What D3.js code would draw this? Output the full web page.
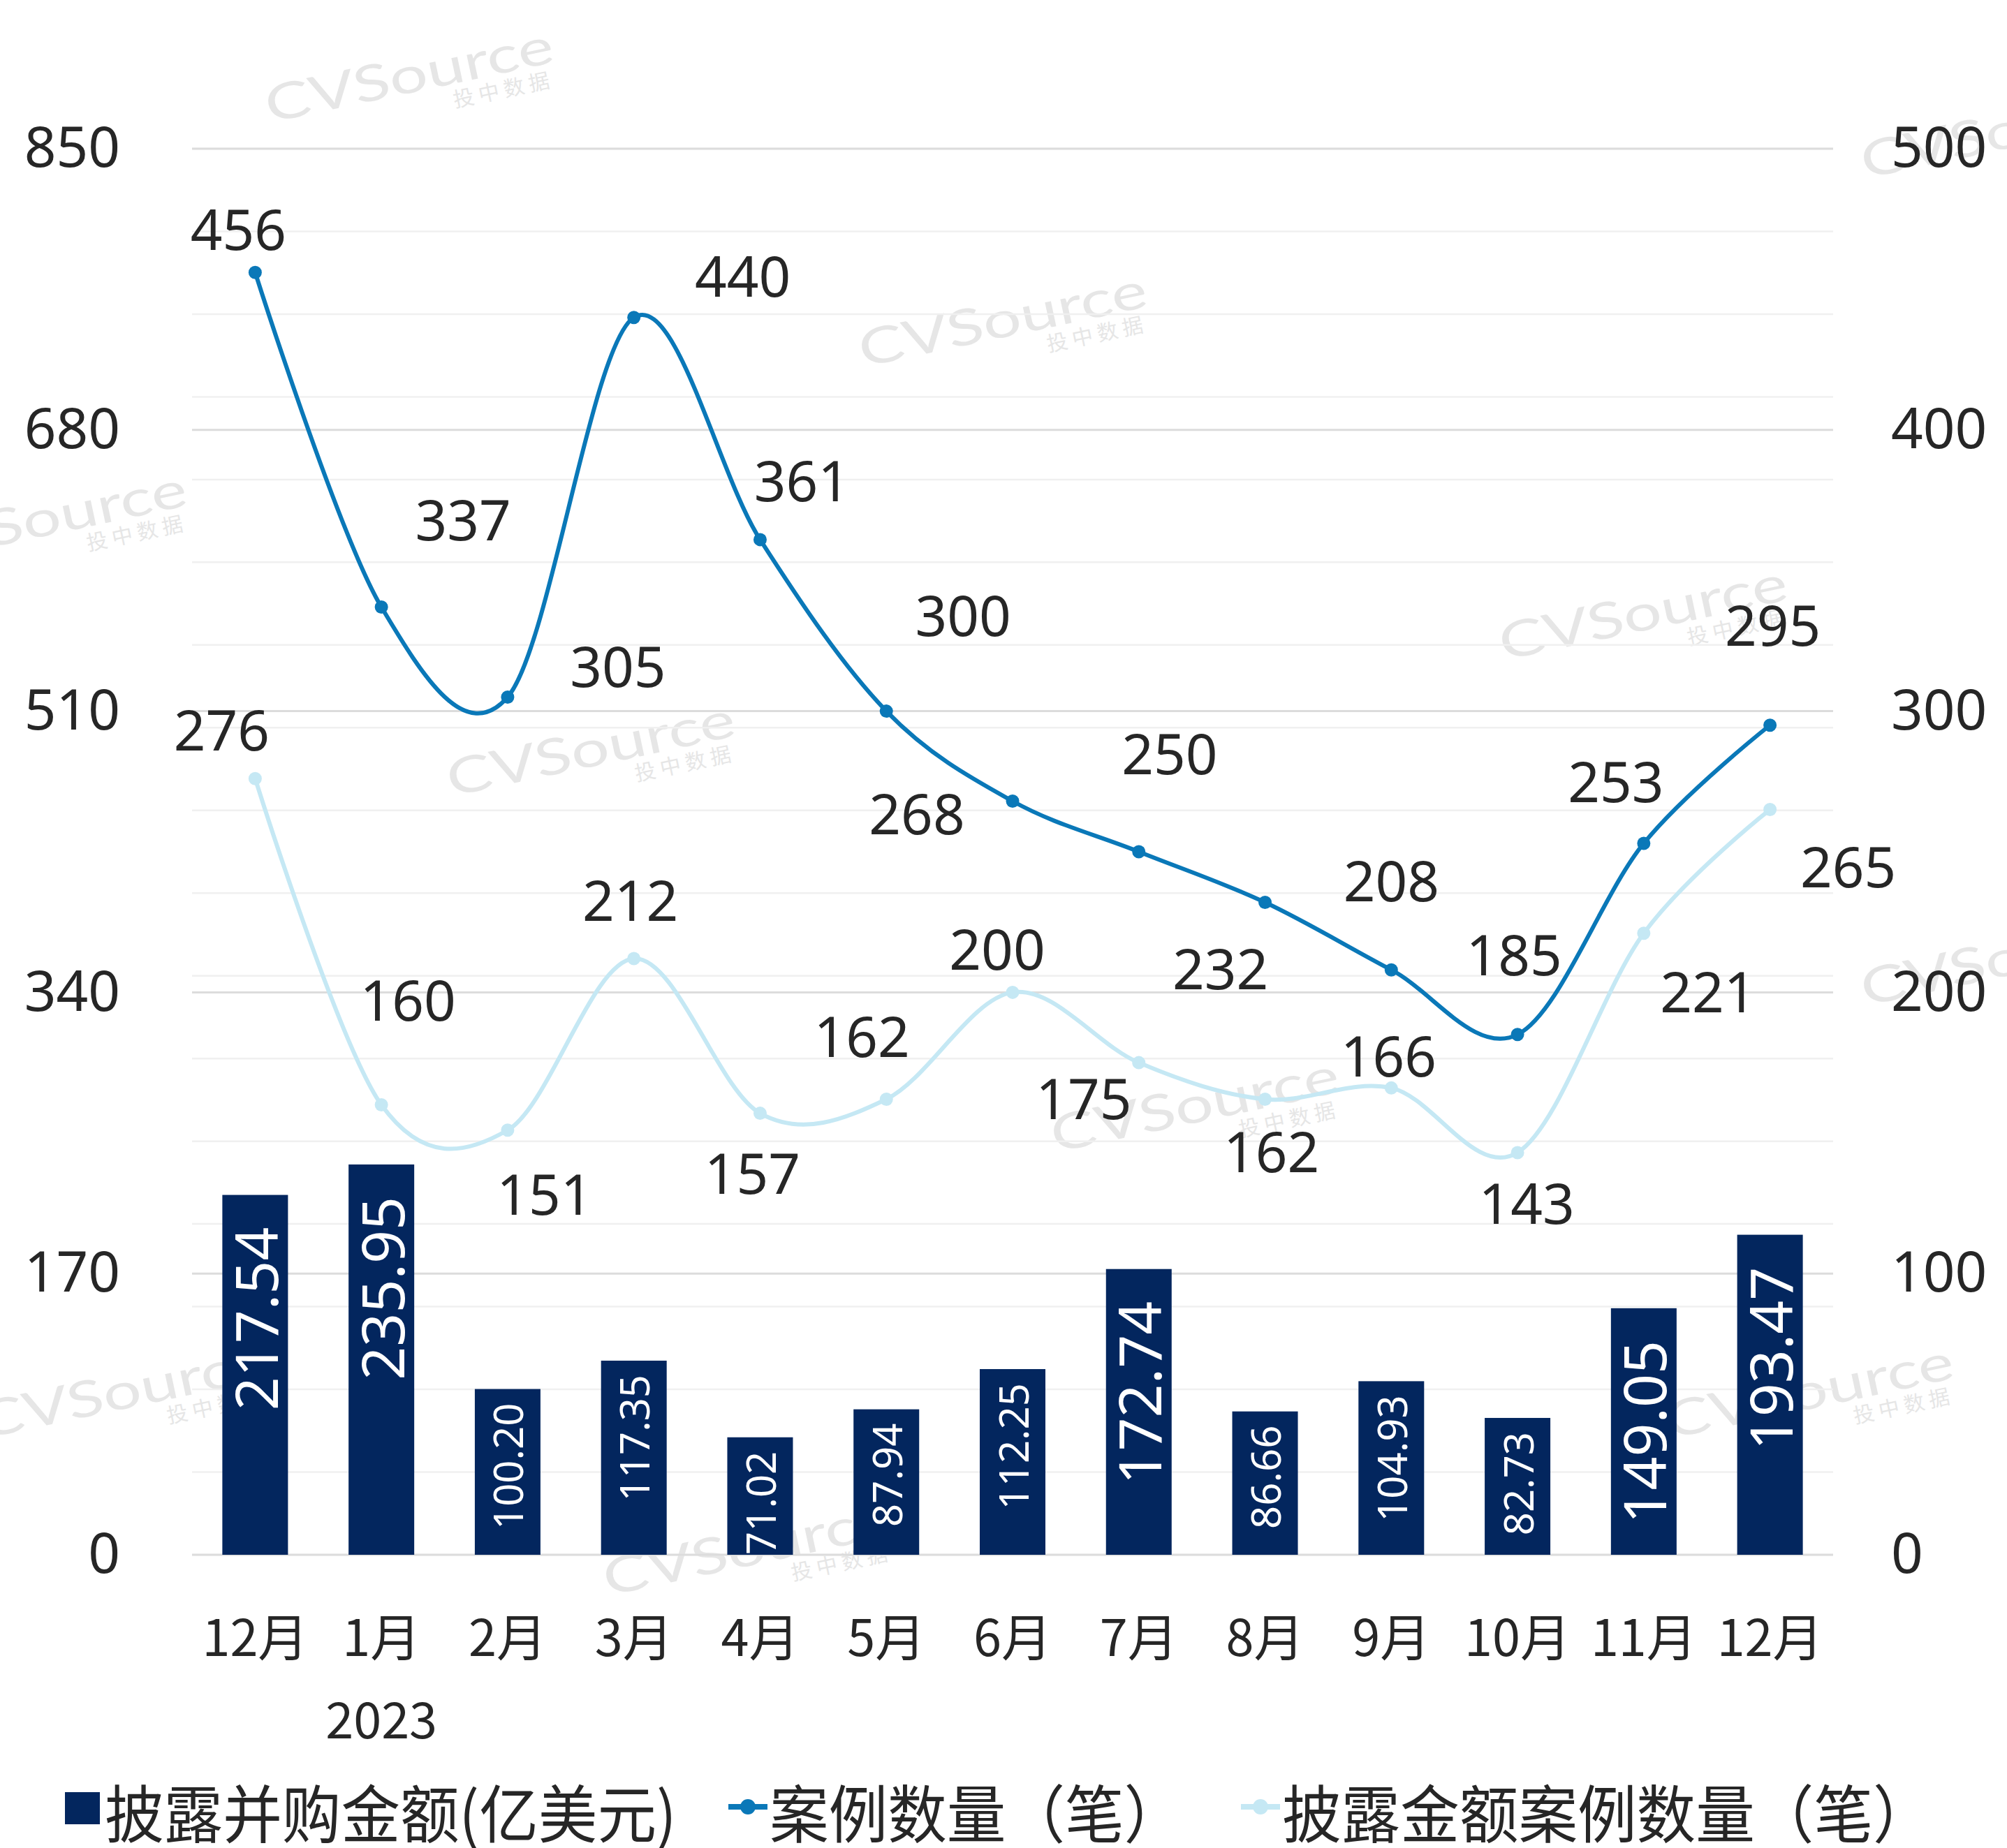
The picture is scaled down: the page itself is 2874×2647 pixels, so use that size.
<!DOCTYPE html>
<html>
<head>
<meta charset="utf-8">
<script src="https://cdnjs.cloudflare.com/ajax/libs/d3/7.8.5/d3.min.js"></script>
<style>
  html, body { margin: 0; padding: 0; background: #fff; }
  svg { display: block; }
</style>
</head>
<body>
<svg id="chart" width="2874" height="2647"></svg>
<script>
// chart values
var months = ["12月", "1月", "2月", "3月", "4月", "5月", "6月", "7月", "8月", "9月", "10月", "11月", "12月"]
var yearLabel = {index: 1, text: "2023"}
var dealAmount = [217.54, 235.95, 100.20, 117.35, 71.02, 87.94, 112.25, 172.74, 86.66, 104.93, 82.73, 149.05, 193.47]
var dealCount = [456, 337, 305, 440, 361, 300, 268, 250, 232, 208, 185, 253, 295]
var disclosedCount = [276, 160, 151, 212, 157, 162, 200, 175, 162, 166, 143, 221, 265]
var leftTicks = [0, 170, 340, 510, 680, 850]
var rightTicks = [0, 100, 200, 300, 400, 500]
var legendNames = ["披露并购金额(亿美元)", "案例数量（笔）", "披露金额案例数量（笔）"]

var width = 2874
var height = 2647
var plotLeft = 275, plotRight = 2625, plotTop = 213, plotBottom = 2227

var navy = "#03265e"
var blue = "#0a78b8"
var lightBlue = "#c5e8f4"
var textColor = "#262626"
var numFont = "'Noto Sans', 'Open Sans', sans-serif"
var cjkFont = "'Noto Sans CJK SC', 'Noto Sans', sans-serif"

// label nudges (px from the point), as placed in the original chart
var dealCountNudge = [[-24, -64], [117, -127], [158, -46], [156, -61], [60, -86], [110, -139], [-137, 16],
    [44, -143], [-64, 93], [0, -130], [-5, -116], [-40, -90], [4, -145]]
var disclosedNudge = [[-48, -72], [38, -152], [53, 90], [-5, -86], [-11, 84], [-35, -92], [-22, -64],
    [-79, 49], [9, 73], [-4, -48], [13, 71], [92, 82], [112, 80]]

var svg = d3.select("#chart")

var x = d3.scaleBand().domain(d3.range(months.length)).range([plotLeft, plotRight])
    .paddingInner(0.48).paddingOuter(0.24)
var yLeft = d3.scaleLinear().domain([0, 850]).range([plotBottom, plotTop])
var yRight = d3.scaleLinear().domain([0, 500]).range([plotBottom, plotTop])

function cx(i) {
    return x(i) + x.bandwidth() / 2
}

function drawWatermarks(container) {
    var spots = [[585, 105], [1435, 455], [845, 1070], [60, 740], [2352, 875], [1710, 1580],
        [175, 1990], [2590, 1990], [1069, 2215], [2870, 185], [2870, 1370]]
    spots.forEach(function (s) {
        var g = container.append("g").attr("transform", "translate(" + s[0] + "," + s[1] + ") rotate(-12)")
        g.append("text")
            .attr("text-anchor", "middle")
            .attr("dominant-baseline", "central")
            .attr("textLength", 420)
            .attr("lengthAdjust", "spacingAndGlyphs")
            .attr("font-family", "Lato, 'Noto Sans', sans-serif")
            .attr("font-size", 72)
            .attr("fill", "#e6e6e6")
            .text("CVSource")
        g.append("text")
            .attr("x", 125)
            .attr("y", 49)
            .attr("text-anchor", "middle")
            .attr("dominant-baseline", "central")
            .attr("font-family", cjkFont)
            .attr("font-size", 30)
            .attr("fill", "#e6e6e6")
            .text("投 中 数 据")
    })
}

function drawGrid(container) {
    container.selectAll("line.minor")
        .data(d3.range(0, 851, 50))
        .enter().append("line")
        .attr("x1", plotLeft).attr("x2", plotRight)
        .attr("y1", function (d) { return yLeft(d) })
        .attr("y2", function (d) { return yLeft(d) })
        .attr("stroke", "#f0f0f0")
        .attr("stroke-width", 2.5)
    container.selectAll("line.major")
        .data(rightTicks)
        .enter().append("line")
        .attr("x1", plotLeft).attr("x2", plotRight)
        .attr("y1", function (d) { return yRight(d) })
        .attr("y2", function (d) { return yRight(d) })
        .attr("stroke", "#dcdcdc")
        .attr("stroke-width", 3)
}

function styleAxis(g, font, size) {
    g.select(".domain").remove()
    g.selectAll("text")
        .attr("font-family", font)
        .attr("font-size", size)
        .attr("fill", textColor)
}

function drawAxes(container) {
    container.append("g")
        .attr("transform", "translate(" + plotLeft + ",0)")
        .call(d3.axisLeft(yLeft).tickValues(leftTicks).tickSize(0).tickPadding(plotLeft - 172))
        .call(styleAxis, numFont, 80)
    container.append("g")
        .attr("transform", "translate(" + plotRight + ",0)")
        .call(d3.axisRight(yRight).tickValues(rightTicks).tickSize(0).tickPadding(2708 - plotRight))
        .call(styleAxis, numFont, 80)
    container.append("g")
        .attr("transform", "translate(0," + plotBottom + ")")
        .call(d3.axisBottom(x).tickFormat(function (i) { return months[i] }).tickSize(0).tickPadding(94))
        .call(styleAxis, cjkFont, 72)
    container.append("text")
        .attr("x", cx(yearLabel.index))
        .attr("y", 2490)
        .attr("text-anchor", "middle")
        .attr("font-family", cjkFont)
        .attr("font-size", 72)
        .attr("fill", textColor)
        .text(yearLabel.text)
}

function drawBars(container) {
    container.selectAll("rect.bar")
        .data(dealAmount)
        .enter().append("rect")
        .attr("x", function (d, i) { return x(i) })
        .attr("y", function (d) { return yLeft(d) })
        .attr("width", x.bandwidth())
        .attr("height", function (d) { return yLeft(0) - yLeft(d) })
        .attr("fill", navy)

    container.selectAll("text.barLabel")
        .data(dealAmount)
        .enter().append("text")
        .attr("transform", function (d, i) {
            var pad = d >= 140 ? 46 : 20
            return "translate(" + cx(i) + "," + (yLeft(d) + pad) + ") rotate(-90)"
        })
        .attr("text-anchor", "end")
        .attr("dominant-baseline", "central")
        .attr("font-family", numFont)
        .attr("font-size", function (d) { return d >= 140 ? 84 : 58 })
        .attr("fill", "#ffffff")
        .text(function (d) { return d.toFixed(2) })
}

function drawLine(container, values, color) {
    var line = d3.line()
        .x(function (d, i) { return cx(i) })
        .y(function (d) { return yRight(d) })
        .curve(d3.curveCardinal.tension(0))

    container.append("path")
        .datum(values)
        .attr("d", line)
        .attr("fill", "none")
        .attr("stroke", color)
        .attr("stroke-width", 6)

    container.selectAll(null)
        .data(values)
        .enter().append("circle")
        .attr("cx", function (d, i) { return cx(i) })
        .attr("cy", function (d) { return yRight(d) })
        .attr("r", 9.5)
        .attr("fill", color)
}

function drawLineLabels(container, values, nudges) {
    container.selectAll(null)
        .data(values)
        .enter().append("text")
        .attr("x", function (d, i) { return cx(i) + nudges[i][0] })
        .attr("y", function (d, i) { return yRight(d) + nudges[i][1] })
        .attr("text-anchor", "middle")
        .attr("dominant-baseline", "central")
        .attr("font-family", numFont)
        .attr("font-size", 80)
        .attr("fill", textColor)
        .text(function (d) { return d })
}

function drawLegend(container) {
    var baseline = 2632
    var markY = 2588
    container.append("rect")
        .attr("x", 93).attr("y", 2567).attr("width", 50).attr("height", 46)
        .attr("fill", navy)
    var items = [
        {x: 150, text: legendNames[0]},
        {x: 1102, text: legendNames[1], color: blue, mx: 1043},
        {x: 1836, text: legendNames[2], color: lightBlue, mx: 1777}
    ]
    items.forEach(function (item) {
        if (item.color) {
            container.append("line")
                .attr("x1", item.mx).attr("x2", item.mx + 56)
                .attr("y1", markY).attr("y2", markY)
                .attr("stroke", item.color).attr("stroke-width", 8)
            container.append("circle")
                .attr("cx", item.mx + 28).attr("cy", markY).attr("r", 11)
                .attr("fill", item.color)
        }
        var t = container.append("text")
            .attr("x", item.x)
            .attr("y", baseline)
            .attr("font-family", cjkFont)
            .attr("font-size", 90)
            .attr("fill", textColor)
            .text(item.text)
        // the original legend glyphs are a little narrower than Noto's
        var natural = t.node().getComputedTextLength()
        t.attr("textLength", natural * 0.94).attr("lengthAdjust", "spacingAndGlyphs")
    })
}

svg.append("rect").attr("width", width).attr("height", height).attr("fill", "#ffffff")
drawWatermarks(svg.append("g"))
drawGrid(svg.append("g"))
drawBars(svg.append("g"))
drawLine(svg.append("g"), disclosedCount, lightBlue)
drawLine(svg.append("g"), dealCount, blue)
drawLineLabels(svg.append("g"), dealCount, dealCountNudge)
drawLineLabels(svg.append("g"), disclosedCount, disclosedNudge)
drawAxes(svg.append("g"))
drawLegend(svg.append("g"))
</script>
</body>
</html>
